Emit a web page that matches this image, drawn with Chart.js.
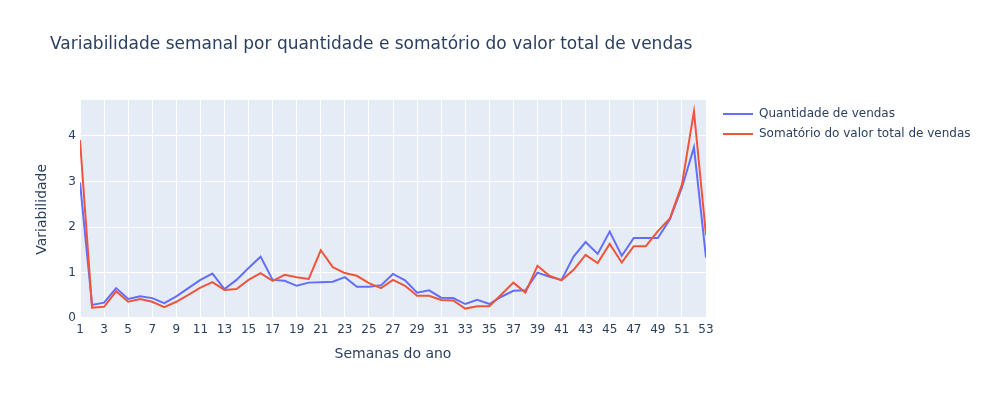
<!DOCTYPE html>
<html>
<head>
<meta charset="utf-8">
<script src="https://cdn.jsdelivr.net/npm/chart.js@4.4.1/dist/chart.umd.min.js"></script>
<style>
html,body{margin:0;padding:0;background:#fff;}
#wrap{width:989px;height:400px;position:relative;}
</style>
</head>
<body>
<div id="wrap"><canvas id="c" width="989" height="400"></canvas></div>
<script>
const chartTitle = "Variabilidade semanal por quantidade e somatório do valor total de vendas";
const xTitle = "Semanas do ano";
const yTitle = "Variabilidade";
const seriesNames = ["Quantidade de vendas", "Somatório do valor total de vendas"];
const weeks = [1,2,3,4,5,6,7,8,9,10,11,12,13,14,15,16,17,18,19,20,21,22,23,24,25,26,27,28,29,30,31,32,33,34,35,36,37,38,39,40,41,42,43,44,45,46,47,48,49,50,51,52,53];
const quantidade = [2.98,0.29,0.34,0.66,0.42,0.48,0.44,0.33,0.48,0.66,0.84,0.98,0.64,0.84,1.10,1.35,0.84,0.82,0.71,0.78,0.79,0.80,0.90,0.69,0.69,0.72,0.97,0.83,0.56,0.61,0.45,0.44,0.31,0.40,0.31,0.47,0.60,0.61,1.00,0.91,0.84,1.35,1.67,1.41,1.90,1.37,1.76,1.76,1.76,2.17,2.87,3.75,1.33];
const somatorio = [3.91,0.23,0.25,0.59,0.36,0.42,0.36,0.24,0.36,0.51,0.67,0.79,0.62,0.64,0.84,0.99,0.82,0.95,0.90,0.86,1.49,1.12,0.99,0.93,0.77,0.66,0.84,0.71,0.49,0.49,0.40,0.39,0.21,0.26,0.26,0.52,0.78,0.56,1.15,0.93,0.83,1.06,1.39,1.21,1.63,1.22,1.58,1.58,1.91,2.19,2.93,4.54,1.82];
const xTicks = [1,3,5,7,9,11,13,15,17,19,21,23,25,27,29,31,33,35,37,39,41,43,45,47,49,51,53];
const yTicks = [0,1,2,3,4];
const colors = ["#636efa", "#EF553B"];

const FONT = "'DejaVu Sans', Verdana, sans-serif";
const TXT = "#2a3f5f";

const bgPlugin = {
  id: 'bg',
  beforeDraw(chart) {
    const {ctx, chartArea: a} = chart;
    ctx.save();
    ctx.fillStyle = "#E5ECF6";
    ctx.fillRect(a.left, a.top, a.right - a.left, a.bottom - a.top);
    ctx.restore();
  },
  afterDraw(chart) {
    const {ctx} = chart;
    ctx.save();
    ctx.fillStyle = TXT;
    ctx.textBaseline = 'middle';
    ctx.textAlign = 'left';
    ctx.font = "17px " + FONT;
    ctx.fillText(chartTitle, 50, 45);
    ctx.font = "12px " + FONT;
    const rows = [114, 134];
    seriesNames.forEach((n, i) => {
      ctx.strokeStyle = colors[i];
      ctx.lineWidth = 2;
      ctx.beginPath();
      ctx.moveTo(723, rows[i]);
      ctx.lineTo(753, rows[i]);
      ctx.stroke();
      ctx.fillStyle = TXT;
      ctx.fillText(n, 759, rows[i]);
    });
    ctx.restore();
  }
};

const toPts = arr => weeks.map((w, i) => ({x: w, y: arr[i]}));

new Chart(document.getElementById('c'), {
  type: 'line',
  data: {
    datasets: [
      {label: seriesNames[0], data: toPts(quantidade), borderColor: colors[0], backgroundColor: colors[0], borderWidth: 2, pointRadius: 0, tension: 0, order: 1},
      {label: seriesNames[1], data: toPts(somatorio), borderColor: colors[1], backgroundColor: colors[1], borderWidth: 2, pointRadius: 0, tension: 0, order: 0}
    ]
  },
  options: {
    responsive: false,
    animation: false,
    devicePixelRatio: 1,
    layout: {padding: {left: 30, top: 100, right: 283, bottom: 33}},
    plugins: {legend: {display: false}, title: {display: false}, tooltip: {enabled: false}},
    scales: {
      x: {
        type: 'linear', min: 1, max: 53,
        afterBuildTicks: s => { s.ticks = xTicks.map(v => ({value: v})); },
        afterFit: s => { s.height = 48.4; },
        grid: {color: '#ffffff', lineWidth: 1, drawTicks: false},
        border: {display: false},
        ticks: {padding: 4, color: TXT, font: {family: FONT, size: 12}, maxRotation: 0, autoSkip: false, callback: v => String(v)},
        title: {display: true, text: xTitle, color: TXT, font: {family: FONT, size: 14}, padding: {top: 4, bottom: 4}}
      },
      y: {
        type: 'linear', min: -0.01, max: 4.79,
        afterBuildTicks: s => { s.ticks = yTicks.map(v => ({value: v})); },
        afterFit: s => { s.width = 50; },
        grid: {color: '#ffffff', lineWidth: c => (c.tick && c.tick.value === 0) ? 2 : 1, drawTicks: false},
        border: {display: false},
        ticks: {padding: 4, color: TXT, font: {family: FONT, size: 12}, callback: v => String(v)},
        title: {display: true, text: yTitle, color: TXT, font: {family: FONT, size: 14}, padding: {top: 4, bottom: 4}}
      }
    }
  },
  plugins: [bgPlugin]
});
</script>
</body>
</html>
